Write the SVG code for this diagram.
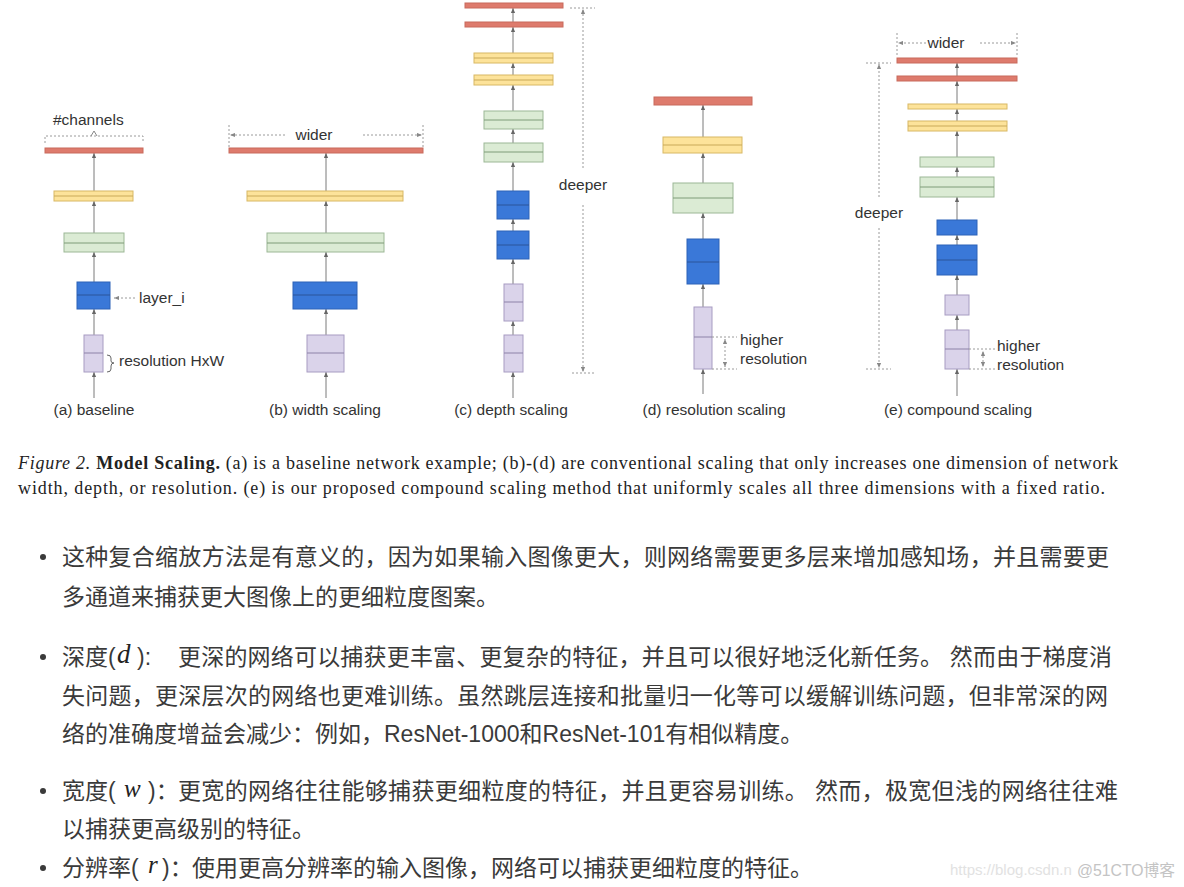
<svg xmlns="http://www.w3.org/2000/svg" width="1184" height="887" viewBox="0 0 1184 887">
<style>
.red{fill:#de7b6d;stroke:#c86a5d;stroke-width:1}
.yel{fill:#fde39a;stroke:#d8b865;stroke-width:1}
.grn{fill:#dbebd4;stroke:#9cb796;stroke-width:1}
.blu{fill:#3a78d8;stroke:#2d62b8;stroke-width:1}
.pur{fill:#dad3ea;stroke:#a79cc2;stroke-width:1}
.ym{stroke:#c9a958;stroke-width:1}
.gm{stroke:#7f9c78;stroke-width:1}
.bm{stroke:#2a549a;stroke-width:1}
.pm{stroke:#8d82a8;stroke-width:1}
.flow{stroke:#7a7a7a;stroke-width:1;fill:none;marker-end:url(#ah)}
.dot{stroke:#9a9a9a;stroke-width:1;fill:none;stroke-dasharray:2,2}
.lbl{font-family:"Liberation Sans",Arial,sans-serif;font-size:15.5px;fill:#333}
.cap{font-family:"Liberation Serif","Times New Roman",serif;font-size:18px;fill:#222}
.zh{font-family:"Liberation Sans","Noto Sans CJK SC",sans-serif;font-size:23px;fill:#3a3a3a}
.math{font-family:"Liberation Serif","Times New Roman",serif;font-style:italic;fill:#222}
</style>
<defs>
<marker id="ah" viewBox="0 0 6 6" refX="6" refY="3" markerWidth="5" markerHeight="5" markerUnits="userSpaceOnUse" orient="auto"><path d="M0,0.5 L6,3 L0,5.5z" fill="#666"/></marker>
<marker id="dh" viewBox="0 0 6 6" refX="6" refY="3" markerWidth="5" markerHeight="5" markerUnits="userSpaceOnUse" orient="auto"><path d="M0,0.5 L6,3 L0,5.5z" fill="#888"/></marker>
</defs>
<rect width="1184" height="887" fill="#ffffff"/>

<g id="connectors">
<!-- (a) -->
<path class="flow" d="M94,398 V372"/>
<path class="flow" d="M94,335 V309"/>
<path class="flow" d="M94,282 V252"/>
<path class="flow" d="M94,233 V201"/>
<path class="flow" d="M94,191 V153"/>
<!-- (b) -->
<path class="flow" d="M326,398 V372"/>
<path class="flow" d="M326,335 V309"/>
<path class="flow" d="M326,282 V252"/>
<path class="flow" d="M326,233 V201"/>
<path class="flow" d="M326,191 V153"/>
<!-- (c) -->
<path class="flow" d="M513,398 V372"/>
<path class="flow" d="M513,335 V321"/>
<path class="flow" d="M513,284 V259"/>
<path class="flow" d="M513,231 V219"/>
<path class="flow" d="M513,191 V162"/>
<path class="flow" d="M513,143 V129"/>
<path class="flow" d="M513,111 V85"/>
<path class="flow" d="M513,75 V63"/>
<path class="flow" d="M513,53 V27"/>
<path class="flow" d="M513,22 V8"/>
<!-- (d) -->
<path class="flow" d="M703,394 V369"/>
<path class="flow" d="M703,307 V284"/>
<path class="flow" d="M703,239 V213"/>
<path class="flow" d="M703,183 V153"/>
<path class="flow" d="M703,137 V105"/>
<!-- (e) -->
<path class="flow" d="M957,396 V369"/>
<path class="flow" d="M957,330 V315"/>
<path class="flow" d="M957,295 V275"/>
<path class="flow" d="M957,245 V235"/>
<path class="flow" d="M957,220 V197"/>
<path class="flow" d="M957,177 V167"/>
<path class="flow" d="M957,157 V131"/>
<path class="flow" d="M957,121 V109"/>
<path class="flow" d="M957,104 V81"/>
<path class="flow" d="M957,76 V63"/>
</g>

<g id="node-a-baseline">
<rect class="red" x="45" y="148" width="98" height="5"/>
<rect class="yel" x="54" y="191" width="79" height="10"/><line class="ym" x1="54" y1="196" x2="133" y2="196"/>
<rect class="grn" x="64" y="233" width="60" height="19"/><line class="gm" x1="64" y1="243" x2="124" y2="243"/>
<rect class="blu" x="77" y="282" width="33" height="27"/><line class="bm" x1="77" y1="295" x2="110" y2="295"/>
<rect class="pur" x="84" y="335" width="19" height="37"/><line class="pm" x1="84" y1="353" x2="103" y2="353"/>
<text class="lbl" x="53" y="125">#channels</text>
<path class="dot" d="M45,143 V136 H143 V143" stroke-dasharray="4,3"/>
<path d="M91,136 L94,131 L97,136" fill="none" stroke="#888" stroke-width="1"/>
<path class="dot" d="M135,298 H114" marker-end="url(#dh)"/>
<text class="lbl" x="139" y="303">layer_i</text>
<path d="M107,355 Q111,355 111,358 V361 Q111,363 114,363 Q111,363 111,366 V369 Q111,372 107,372" fill="none" stroke="#666" stroke-width="1"/>
<text class="lbl" x="119" y="366">resolution HxW</text>
<text class="lbl" x="94" y="415" text-anchor="middle">(a) baseline</text>
</g>

<g id="node-b-width">
<rect class="red" x="229" y="148" width="194" height="5"/>
<rect class="yel" x="247" y="191" width="156" height="10"/><line class="ym" x1="247" y1="196" x2="403" y2="196"/>
<rect class="grn" x="267" y="233" width="117" height="19"/><line class="gm" x1="267" y1="243" x2="384" y2="243"/>
<rect class="blu" x="293" y="282" width="64" height="27"/><line class="bm" x1="293" y1="295" x2="357" y2="295"/>
<rect class="pur" x="307" y="335" width="37" height="37"/><line class="pm" x1="307" y1="353" x2="344" y2="353"/>
<path class="dot" d="M229,125 V147 M423,125 V147"/>
<path class="dot" d="M285,135 H230" marker-end="url(#dh)"/>
<path class="dot" d="M363,135 H422" marker-end="url(#dh)"/>
<text class="lbl" x="314" y="140" text-anchor="middle">wider</text>
<text class="lbl" x="325" y="415" text-anchor="middle">(b) width scaling</text>
</g>

<g id="node-c-depth">
<rect class="red" x="465" y="3" width="98" height="5"/>
<rect class="red" x="465" y="22" width="98" height="5"/>
<rect class="yel" x="474" y="53" width="79" height="10"/><line class="ym" x1="474" y1="58" x2="553" y2="58"/>
<rect class="yel" x="474" y="75" width="79" height="10"/><line class="ym" x1="474" y1="80" x2="553" y2="80"/>
<rect class="grn" x="484" y="111" width="59" height="18"/><line class="gm" x1="484" y1="120" x2="543" y2="120"/>
<rect class="grn" x="484" y="143" width="59" height="19"/><line class="gm" x1="484" y1="152" x2="543" y2="152"/>
<rect class="blu" x="497" y="191" width="32" height="28"/><line class="bm" x1="497" y1="205" x2="529" y2="205"/>
<rect class="blu" x="497" y="231" width="32" height="28"/><line class="bm" x1="497" y1="245" x2="529" y2="245"/>
<rect class="pur" x="504" y="284" width="19" height="37"/><line class="pm" x1="504" y1="302" x2="523" y2="302"/>
<rect class="pur" x="504" y="335" width="19" height="37"/><line class="pm" x1="504" y1="353" x2="523" y2="353"/>
<path class="dot" d="M570,8 H595 M572,373 H595"/>
<path class="dot" d="M583,168 V9" marker-end="url(#dh)"/>
<path class="dot" d="M583,205 V372" marker-end="url(#dh)"/>
<text class="lbl" x="583" y="190" text-anchor="middle">deeper</text>
<text class="lbl" x="511" y="415" text-anchor="middle">(c) depth scaling</text>
</g>

<g id="node-d-resolution">
<rect class="red" x="654" y="97" width="98" height="8"/>
<rect class="yel" x="663" y="137" width="79" height="16"/><line class="ym" x1="663" y1="145" x2="742" y2="145"/>
<rect class="grn" x="673" y="183" width="60" height="30"/><line class="gm" x1="673" y1="198" x2="733" y2="198"/>
<rect class="blu" x="687" y="239" width="32" height="45"/><line class="bm" x1="687" y1="262" x2="719" y2="262"/>
<rect class="pur" x="694" y="307" width="18" height="62"/><line class="pm" x1="694" y1="337" x2="712" y2="337"/>
<path class="dot" d="M712,337 H737 M712,369 H737"/>
<path class="dot" d="M725,352 V339" marker-end="url(#dh)"/>
<path class="dot" d="M725,354 V367" marker-end="url(#dh)"/>
<text class="lbl" x="740" y="345">higher</text>
<text class="lbl" x="740" y="364">resolution</text>
<text class="lbl" x="714" y="415" text-anchor="middle">(d) resolution scaling</text>
</g>

<g id="node-e-compound">
<rect class="red" x="897" y="58" width="120" height="5"/>
<rect class="red" x="897" y="76" width="120" height="5"/>
<rect class="yel" x="908" y="104" width="99" height="5"/>
<rect class="yel" x="908" y="121" width="99" height="10"/><line class="ym" x1="908" y1="126" x2="1007" y2="126"/>
<rect class="grn" x="920" y="157" width="74" height="10"/>
<rect class="grn" x="920" y="177" width="74" height="20"/><line class="gm" x1="920" y1="187" x2="994" y2="187"/>
<rect class="blu" x="937" y="220" width="40" height="15"/>
<rect class="blu" x="937" y="245" width="40" height="30"/><line class="bm" x1="937" y1="260" x2="977" y2="260"/>
<rect class="pur" x="945" y="295" width="24" height="20"/>
<rect class="pur" x="945" y="330" width="24" height="39"/><line class="pm" x1="945" y1="349" x2="969" y2="349"/>
<path class="dot" d="M897,33 V57 M1017,33 V57"/>
<path class="dot" d="M926,43 H898" marker-end="url(#dh)"/>
<path class="dot" d="M980,43 H1016" marker-end="url(#dh)"/>
<text class="lbl" x="946" y="48" text-anchor="middle">wider</text>
<path class="dot" d="M866,63 H891 M866,369 H891"/>
<path class="dot" d="M879,197 V64" marker-end="url(#dh)"/>
<path class="dot" d="M879,228 V368" marker-end="url(#dh)"/>
<text class="lbl" x="879" y="218" text-anchor="middle">deeper</text>
<path class="dot" d="M969,349 H996 M969,369 H996"/>
<path class="dot" d="M983,358 V351" marker-end="url(#dh)"/>
<path class="dot" d="M983,360 V367" marker-end="url(#dh)"/>
<text class="lbl" x="997" y="351">higher</text>
<text class="lbl" x="997" y="370">resolution</text>
<text class="lbl" x="958" y="415" text-anchor="middle">(e) compound scaling</text>
</g>

<g id="caption">
<text class="cap" x="18" y="469" textLength="1100" lengthAdjust="spacing"><tspan font-style="italic">Figure 2.</tspan> <tspan font-weight="bold">Model Scaling.</tspan> (a) is a baseline network example; (b)-(d) are conventional scaling that only increases one dimension of network</text>
<text class="cap" x="18" y="494" textLength="1087" lengthAdjust="spacing">width, depth, or resolution. (e) is our proposed compound scaling method that uniformly scales all three dimensions with a fixed ratio.</text>
</g>

<g id="bullets">
<circle cx="43" cy="557" r="3" fill="#3a3a3a"/>
<text class="zh" x="62" y="565" textLength="1047" lengthAdjust="spacing">这种复合缩放方法是有意义的，因为如果输入图像更大，则网络需要更多层来增加感知场，并且需要更</text>
<text class="zh" x="62" y="605">多通道来捕获更大图像上的更细粒度图案。</text>

<circle cx="43" cy="657" r="3" fill="#3a3a3a"/>
<text class="zh" x="62" y="665">深度(</text>
<text class="math" x="117" y="663" font-size="27px">d</text>
<text class="zh" x="137" y="665">):</text>
<text class="zh" x="178" y="665" textLength="934" lengthAdjust="spacing">更深的网络可以捕获更丰富、更复杂的特征，并且可以很好地泛化新任务。 然而由于梯度消</text>
<text class="zh" x="62" y="704" textLength="1046" lengthAdjust="spacing">失问题，更深层次的网络也更难训练。虽然跳层连接和批量归一化等可以缓解训练问题，但非常深的网</text>
<text class="zh" x="62" y="742">络的准确度增益会减少：例如，ResNet-1000和ResNet-101有相似精度。</text>

<circle cx="43" cy="791" r="3" fill="#3a3a3a"/>
<text class="zh" x="62" y="799">宽度(</text>
<text class="math" x="124" y="797" font-size="25px">w</text>
<text class="zh" x="148" y="799">)：</text>
<text class="zh" x="178" y="799" textLength="940" lengthAdjust="spacing">更宽的网络往往能够捕获更细粒度的特征，并且更容易训练。 然而，极宽但浅的网络往往难</text>
<text class="zh" x="62" y="837">以捕获更高级别的特征。</text>

<circle cx="43" cy="868" r="3" fill="#3a3a3a"/>
<text class="zh" x="62" y="876">分辨率(</text>
<text class="math" x="148" y="873" font-size="25px">r</text>
<text class="zh" x="162" y="876">)：</text>
<text class="zh" x="192" y="876">使用更高分辨率的输入图像，网络可以捕获更细粒度的特征。</text>
</g>

<g id="watermark">
<text x="950" y="875" font-family="Liberation Sans,Arial,sans-serif" font-size="15px" fill="#e2e2e2">https://blog.csdn.n</text>
<text x="1077" y="876" font-family="Liberation Sans,'Noto Sans CJK SC',sans-serif" font-size="16px" fill="#c4c4c4" textLength="98" lengthAdjust="spacingAndGlyphs">@51CTO博客</text>
</g>
</svg>
